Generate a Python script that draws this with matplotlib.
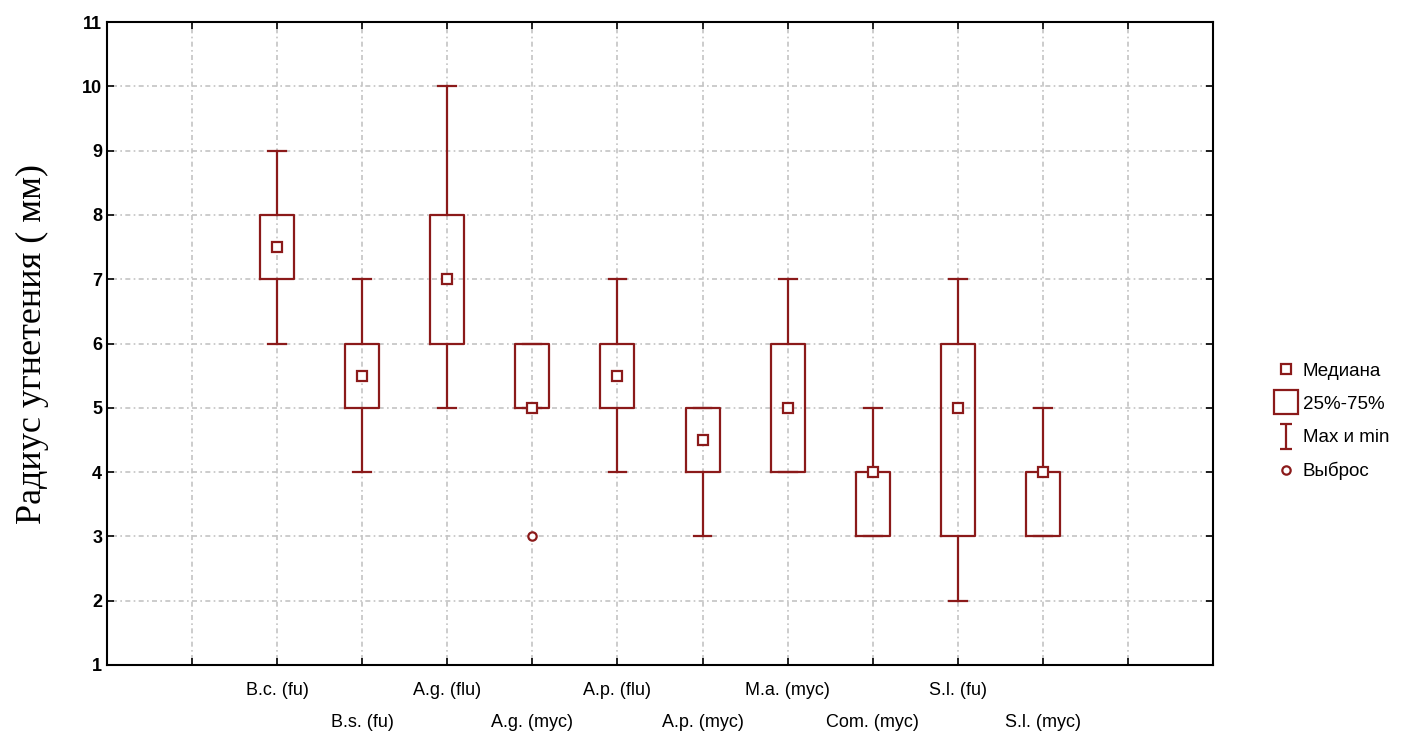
import numpy as np
import matplotlib.pyplot as plt
from matplotlib.lines import Line2D
from matplotlib.path import Path

labels = ["B.c. (fu)", "B.s. (fu)", "A.g. (flu)", "A.g. (myc)", "A.p. (flu)",
          "A.p. (myc)", "M.a. (myc)", "Com. (myc)", "S.l. (fu)", "S.l. (myc)"]
mins = [6, 4, 5, 5, 4, 3, 4, 3, 2, 3]
q1 = [7, 5, 6, 5, 5, 4, 4, 3, 3, 3]
q3 = [8, 6, 8, 6, 6, 5, 6, 4, 6, 4]
maxs = [9, 7, 10, 6, 7, 5, 7, 5, 7, 5]
medians = [7.5, 5.5, 7, 5, 5.5, 4.5, 5, 4, 5, 4]
outliers = [[], [], [], [3], [], [], [], [], [], []]

red = "#8b1a1a"
pos = np.arange(1, len(labels) + 1)

fig = plt.figure(figsize=(14.27, 7.37), dpi=100)
ax = fig.add_axes([0.075, 0.0977, 0.775, 0.8723])

stats = []
for i in range(len(labels)):
    stats.append(dict(med=medians[i], q1=q1[i], q3=q3[i], whislo=mins[i],
                      whishi=maxs[i], fliers=outliers[i]))

ax.bxp(stats, positions=pos, widths=0.4, capwidths=0.21,
       boxprops=dict(color=red, linewidth=1.6),
       whiskerprops=dict(color=red, linewidth=1.6),
       capprops=dict(color=red, linewidth=1.6),
       medianprops=dict(linewidth=0),
       flierprops=dict(marker="o", markersize=6, markerfacecolor="white",
                       markeredgecolor=red, markeredgewidth=1.6),
       zorder=3)
ax.plot(pos, medians, "s", markersize=7, markerfacecolor="white",
        markeredgecolor=red, markeredgewidth=1.6, linestyle="none", zorder=4)

ax.set_xlim(-1, 12)
ax.set_ylim(1, 11)
ax.set_xticks(np.arange(0, 12))
ax.set_xticklabels([""] * 12)
ax.set_yticks(np.arange(1, 12))
for lbl in ax.get_yticklabels():
    lbl.set_fontweight("bold")
    lbl.set_fontfamily("Liberation Sans")
    lbl.set_fontsize(13)

for i, name in enumerate(labels):
    y = -0.039 if i % 2 == 0 else -0.089
    ax.text(pos[i], y, name, transform=ax.get_xaxis_transform(), ha="center",
            va="center", fontsize=13, family="Liberation Sans")

ax.tick_params(direction="in", top=True, right=True, length=5, width=1.2)
ax.grid(True, color="#c4c4c4", linestyle=(0, (1, 2, 3, 2)), linewidth=1.2)
ax.set_axisbelow(True)
for s in ax.spines.values():
    s.set_linewidth(1.5)

ax.set_ylabel("Радиус угнетения ( мм)", family="Liberation Serif", fontsize=26,
              labelpad=24)

ibeam = Path([(-0.5, 1), (0.5, 1), (0, 1), (0, -1), (-0.5, -1), (0.5, -1)],
             [Path.MOVETO, Path.LINETO, Path.MOVETO, Path.LINETO,
              Path.MOVETO, Path.LINETO])
handles = [
    Line2D([], [], marker="s", markersize=7, markerfacecolor="white",
           markeredgecolor=red, markeredgewidth=1.6, linestyle="none"),
    Line2D([], [], marker="s", markersize=17, markerfacecolor="white",
           markeredgecolor=red, markeredgewidth=1.6, linestyle="none"),
    Line2D([], [], marker=ibeam, markersize=18, markerfacecolor="none",
           markeredgecolor=red, markeredgewidth=1.6, linestyle="none"),
    Line2D([], [], marker="o", markersize=6, markerfacecolor="white",
           markeredgecolor=red, markeredgewidth=1.6, linestyle="none"),
]
fig.legend(handles, ["Медиана", "25%-75%", "Max и min", "Выброс"],
           loc="center left", bbox_to_anchor=(0.888, 0.428), frameon=False,
           prop=dict(family="Liberation Sans", size=13.5), handlelength=1.0,
           handletextpad=0.4, labelspacing=0.85, borderpad=0)

fig.savefig("out.png", dpi=100)
